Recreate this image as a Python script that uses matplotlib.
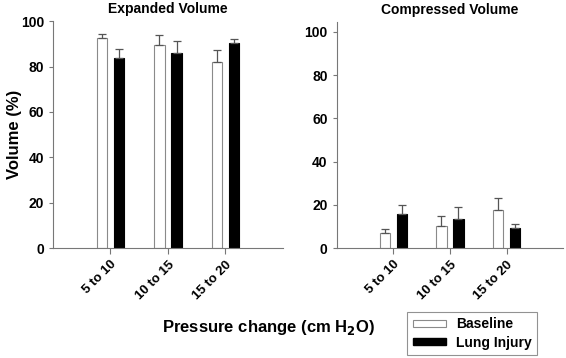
import matplotlib
matplotlib.use("Agg")
import matplotlib.pyplot as plt
import numpy as np
from matplotlib.patches import Patch

plt.rcParams['font.family'] = ['Liberation Sans', 'DejaVu Sans']
plt.rcParams['font.weight'] = 'bold'

groups = ["5 to 10", "10 to 15", "15 to 20"]
series = ["Baseline", "Lung Injury"]

exp_base = [92.7, 89.6, 82.0]
exp_base_err = [1.5, 4.4, 5.4]
exp_lung = [83.8, 85.8, 90.4]
exp_lung_err = [3.9, 5.4, 1.9]

comp_base = [7.2, 10.3, 17.7]
comp_base_err = [1.7, 4.5, 5.5]
comp_lung = [15.8, 13.6, 9.2]
comp_lung_err = [4.0, 5.3, 2.0]

fig = plt.figure(figsize=(5.66, 3.58), dpi=100)
ax1 = fig.add_axes([0.0936, 0.307, 0.4064, 0.634])
ax2 = fig.add_axes([0.595, 0.307, 0.400, 0.632])

x = np.arange(1, len(groups) + 1)
w = 0.18
off = 0.15


def draw(ax, base, berr, lung, lerr, title, ytop):
    ekw = dict(ecolor='#555555', elinewidth=0.9, capsize=3, capthick=0.9)
    ax.bar(x - off, base, w, color='white', edgecolor='#8a8a8a', linewidth=0.8,
           yerr=[np.zeros(len(berr)), berr], error_kw=ekw)
    ax.bar(x + off, lung, w, color='black', edgecolor='black', linewidth=0.8,
           yerr=[np.zeros(len(lerr)), lerr], error_kw=ekw)
    ax.set_xlim(0, 4)
    ax.set_ylim(0, ytop)
    ax.set_yticks([0, 20, 40, 60, 80, 100])
    ax.set_xticks(x)
    ax.set_xticklabels(groups, rotation=45, ha='right', rotation_mode='anchor',
                       fontsize=9.5, fontweight='bold')
    ax.tick_params(axis='y', labelsize=10, length=3, color='#777777')
    ax.tick_params(axis='x', length=4, color='#777777')
    for s in ['top', 'right']:
        ax.spines[s].set_visible(False)
    for s in ['left', 'bottom']:
        ax.spines[s].set_color('#777777')
        ax.spines[s].set_linewidth(0.8)
    ax.set_title(title, fontsize=10, fontweight='bold', pad=5.5)


draw(ax1, exp_base, exp_base_err, exp_lung, exp_lung_err, "Expanded Volume", 100)
draw(ax2, comp_base, comp_base_err, comp_lung, comp_lung_err, "Compressed Volume", 104.7)

ax1.set_ylabel("Volume (%)", fontsize=12, fontweight='bold')
ax1.yaxis.set_label_coords(-0.135, 0.5)
fig.text(0.475, 0.085, "Pressure change (cm H$_\\mathbf{2}$O)", fontsize=12, fontweight='bold',
         ha='center', va='center')

handles = [Patch(facecolor='white', edgecolor='#8a8a8a', linewidth=0.8),
           Patch(facecolor='black', edgecolor='black')]
leg = fig.legend(handles, series, loc='lower right', bbox_to_anchor=(0.949, 0.008),
                 borderaxespad=0, frameon=True, fancybox=False, edgecolor='#777777',
                 fontsize=10, handlelength=2.4, handleheight=0.45, handletextpad=0.7,
                 borderpad=0.4, labelspacing=0.3)
leg.get_frame().set_linewidth(0.8)
for t in leg.get_texts():
    t.set_fontweight('bold')

fig.savefig("out.png", dpi=100)
